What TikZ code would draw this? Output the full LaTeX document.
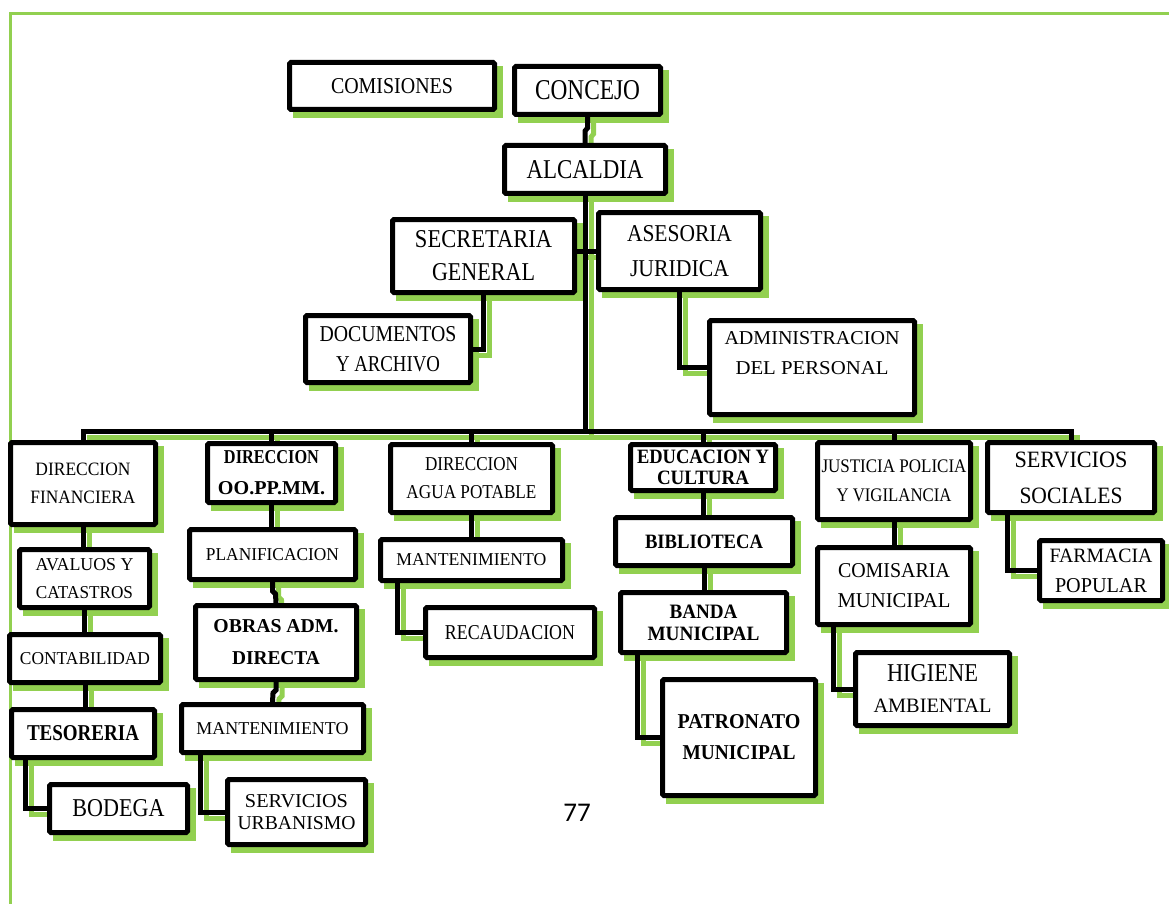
\documentclass[tikz,border=0pt]{standalone}
\usepackage{fontspec}
\setmainfont{Liberation Serif}
\newfontfamily\pagenumfont{Carlito}
\usepackage{graphicx}
\usetikzlibrary{calc}
\definecolor{shadegreen}{HTML}{92D050}
\pgfdeclarelayer{shadowlayer}
\pgfdeclarelayer{linklayer}
\pgfsetlayers{shadowlayer,linklayer,main}

% one line of capitals, set to a given width and cap height
\newcommand\fitl[3]{\resizebox{#1pt}{#2pt}{#3}}
\newcommand\fitb[3]{\resizebox{#1pt}{#2pt}{\bfseries #3}}

% \orgbox{name}{x1}{y1}{x2}{y2}{text}: outer edges of the black frame
\newcommand\orgbox[6]{%
  \pgfmathsetmacro\obw{#4-#2-5}\pgfmathsetmacro\obh{#5-#3-5}%
  \pgfmathsetmacro\obx{(#2+#4)/2}\pgfmathsetmacro\oby{(#3+#5)/2}%
  \node[orgnode, minimum width=\obw pt, minimum height=\obh pt] (#1) at (\obx,\oby) {#6};%
  \begin{pgfonlayer}{shadowlayer}
    \fill[shadegreen] ([xshift=6pt,yshift=-6pt]#1.north west) rectangle ([xshift=6pt,yshift=-6pt]#1.south east);
  \end{pgfonlayer}}

% connector: green offset copy below, black line above
\newcommand\linkpath[1]{%
  \begin{pgfonlayer}{shadowlayer}\draw[linkshadow] #1;\end{pgfonlayer}%
  \begin{pgfonlayer}{linklayer}\draw[linkline] #1;\end{pgfonlayer}}

\tikzset{
  orgnode/.style={draw=black, line width=5pt, fill=white, inner sep=0pt,
    rounded corners=1.5pt, align=center, font=\fontsize{10}{20}\selectfont},
  linkline/.style={draw=black, line width=5pt, line cap=rect, line join=miter},
  linkshadow/.style={draw=shadegreen, line width=5pt, line cap=rect,
    transform canvas={xshift=6pt, yshift=-6pt}},
  pageline/.style={draw=shadegreen, line width=3pt},
}

\begin{document}
\begin{tikzpicture}[x=1pt, y=-1pt]
\useasboundingbox (0,0) rectangle (1169,904);
\draw[pageline] (10,904) -- (10,14) -- (1169,14);

% top levels
\orgbox{comisiones}{287}{60}{497}{112}{\fitl{122}{15}{COMISIONES}}
\orgbox{concejo}{512}{64}{663}{117}{\fitl{105}{19}{CONCEJO}}
\orgbox{alcaldia}{502}{143}{668}{196}{\fitl{117}{18}{ALCALDIA}}
\orgbox{secretaria}{390}{217}{577}{295}{\fitl{137}{17}{SECRETARIA}\\[13pt]\fitl{103}{17}{GENERAL}}
\orgbox{asesoria}{596}{210}{763}{292}{\fitl{105}{16}{ASESORIA}\\[15pt]\fitl{99}{16}{JURIDICA}}
\orgbox{documentos}{303}{313}{473}{385}{\fitl{137}{15}{DOCUMENTOS}\\[10pt]\fitl{104}{15}{Y ARCHIVO}}
\orgbox{admin}{707}{318}{917}{417}{\fitl{175}{13}{ADMINISTRACION}\\[10pt]\fitl{153}{13}{DEL PERSONAL}\\[10pt]\mbox{}}

% departments
\orgbox{fin}{8}{440}{158}{527}{\fitl{95}{12.5}{DIRECCION}\\[8pt]\fitl{105}{12.5}{FINANCIERA}}
\orgbox{oopp}{205}{441}{338}{505}{\fitb{95}{13}{DIRECCION}\\[11pt]\fitb{107}{13}{OO.PP.MM.}}
\orgbox{agua}{388}{442}{555}{515}{\fitl{93}{13}{DIRECCION}\\[8pt]\fitl{130}{13}{AGUA POTABLE}}
\orgbox{edu}{628}{442}{778}{493}{\fitb{132}{13.5}{EDUCACION Y}\\[1pt]\fitb{92}{13.5}{CULTURA}}
\orgbox{justicia}{815}{440}{973}{522}{\fitl{145}{12.7}{JUSTICIA POLICIA}\\[9pt]\fitl{115}{12.7}{Y VIGILANCIA}}
\orgbox{servsoc}{985}{440}{1157}{515}{\fitl{113}{15.5}{SERVICIOS}\\[16pt]\fitl{103}{15.5}{SOCIALES}}

% first column
\orgbox{avaluos}{17}{547}{152}{610}{\fitl{98}{12}{AVALUOS Y}\\[8pt]\fitl{97}{12}{CATASTROS}}
\orgbox{contab}{7}{632}{163}{685}{\fitl{130}{12}{CONTABILIDAD}}
\orgbox{teso}{9}{707}{157}{760}{\fitb{112}{15}{TESORERIA}}
\orgbox{bodega}{47}{782}{190}{835}{\fitl{92}{17}{BODEGA}}

% second column
\orgbox{planif}{187}{527}{358}{582}{\fitl{133}{12}{PLANIFICACION}}
\orgbox{obras}{193}{603}{359}{682}{\fitb{125}{13}{OBRAS ADM.}\\[12pt]\fitb{88}{13}{DIRECTA}}
\orgbox{manttwo}{179}{702}{366}{755}{\fitl{152}{12}{MANTENIMIENTO}}
\orgbox{servurb}{225}{777}{368}{847}{\fitl{103}{13}{SERVICIOS}\\[2pt]\fitl{118}{13}{URBANISMO}}

% third column
\orgbox{mantthree}{378}{537}{565}{583}{\fitl{150}{12}{MANTENIMIENTO}}
\orgbox{recaud}{423}{605}{597}{660}{\fitl{130}{14}{RECAUDACION}}

% fourth column
\orgbox{biblio}{613}{515}{795}{568}{\fitb{118}{13.5}{BIBLIOTECA}}
\orgbox{banda}{618}{590}{789}{655}{\fitb{68}{13.5}{BANDA}\\[2pt]\fitb{112}{13.5}{MUNICIPAL}}
\orgbox{patronato}{660}{677}{818}{798}{\fitb{123}{14}{PATRONATO}\\[11pt]\fitb{113}{14}{MUNICIPAL}}

% fifth and sixth columns
\orgbox{comisaria}{815}{545}{973}{627}{\fitl{112}{14}{COMISARIA}\\[10pt]\fitl{113}{14}{MUNICIPAL}}
\orgbox{higiene}{853}{650}{1012}{728}{\fitl{91}{17}{HIGIENE}\\[11pt]\fitl{118}{13.5}{AMBIENTAL}}
\orgbox{farmacia}{1037}{538}{1165}{603}{\fitl{103}{13.5}{FARMACIA}\\[10pt]\fitl{92}{14}{POPULAR}}

\node[font=\pagenumfont\fontsize{27}{30}\selectfont, inner sep=0pt] (pagenum) at (577,813) {77};

% connectors
\coordinate (bus) at (585,431);
\linkpath{(concejo.south) -- ++(0,11) -- ++(-2.5,3) -- (alcaldia.north)}
\linkpath{(alcaldia.south) -- (alcaldia.south |- bus)}
\linkpath{(secretaria.east |- asesoria.west) -- (asesoria.west)}
\linkpath{(secretaria.south) |- (documentos.east)}
\linkpath{(asesoria.south) |- (admin.west)}
\linkpath{(bus -| fin.north) -- (bus -| servsoc.north)}
\foreach \d in {fin,oopp,agua,edu,justicia,servsoc}{
  \linkpath{(bus -| \d.north) -- (\d.north)}
}
\linkpath{(fin.south) -- (fin.south |- avaluos.north)}
\linkpath{(avaluos.south) -- (avaluos.south |- contab.north)}
\linkpath{(contab.south) -- (contab.south |- teso.north)}
\linkpath{([xshift=16pt]teso.south west) |- (bodega.west)}
\linkpath{(oopp.south) -- (oopp.south |- planif.north)}
\linkpath{(planif.south) -- ++(0,9) -- ++(3,3) -- (obras.north)}
\linkpath{(obras.south) -- ++(0,8) -- ++(-3,3) -- (manttwo.north)}
\linkpath{([xshift=21pt]manttwo.south west) |- (servurb.west)}
\linkpath{(agua.south) -- (agua.south |- mantthree.north)}
\linkpath{([xshift=19pt]mantthree.south west) |- (recaud.west)}
\linkpath{(edu.south) -- (edu.south |- biblio.north)}
\linkpath{(biblio.south) -- (biblio.south |- banda.north)}
\linkpath{([xshift=19pt]banda.south west) |- (patronato.west)}
\linkpath{(justicia.south) -- (justicia.south |- comisaria.north)}
\linkpath{([xshift=18pt]comisaria.south west) |- (higiene.west)}
\linkpath{([xshift=22pt]servsoc.south west) |- (farmacia.west)}
\end{tikzpicture}
\end{document}
